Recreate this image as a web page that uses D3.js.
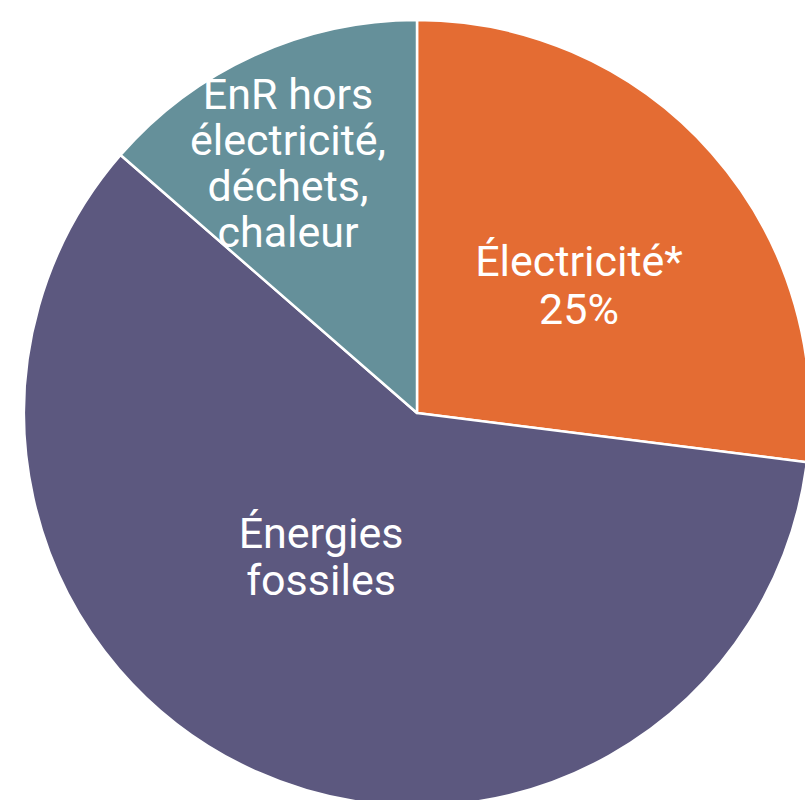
<!DOCTYPE html>
<html>
<head>
<meta charset="utf-8">
<script src="https://cdn.jsdelivr.net/npm/d3@7/dist/d3.min.js"></script>
<style>
  html, body { margin: 0; padding: 0; background: #ffffff; }
  svg { display: block; }
</style>
</head>
<body>
<svg id="chart" width="805" height="800"></svg>
<script>
// ---- Data ----
const categories = ["Électricité*", "Énergies fossiles", "EnR hors électricité, déchets, chaleur"];
const values = [27, 59.4, 13.6];
const labelLines = [
  ["Électricité*", "25%"],
  ["Énergies", "fossiles"],
  ["EnR hors", "électricité,", "déchets,", "chaleur"]
];
const colors = ["#E46C33", "#5C587F", "#65909A"];

// ---- Layout ----
const cx = 417, cy = 413, radius = 393;
const fontSize = 43;
const lineHeights = [47.5, 47, 46];
// first-baseline anchor of each label block (relative to pie centre)
const labelOffsets = [[162, -137], [-96, 135], [-129, -304]];

const svg = d3.select("#chart");
const g = svg.append("g").attr("transform", `translate(${cx},${cy})`);

const pie = d3.pie().sort(null).value(d => d.value).startAngle(0).endAngle(2 * Math.PI);
const data = categories.map((c, i) => ({ name: c, value: values[i], lines: labelLines[i], color: colors[i] }));
const arcs = pie(data);
const arc = d3.arc().innerRadius(0).outerRadius(radius);

g.selectAll("path.slice")
  .data(arcs)
  .join("path")
  .attr("class", "slice")
  .attr("d", arc)
  .attr("fill", d => d.data.color)
  .attr("stroke", "#ffffff")
  .attr("stroke-width", 2.5)
  .attr("stroke-linejoin", "round");

const labels = g.selectAll("text.lbl")
  .data(arcs)
  .join("text")
  .attr("class", "lbl")
  .attr("text-anchor", "middle")
  .attr("fill", "#ffffff")
  .style("font-family", "Roboto, 'Noto Sans', sans-serif")
  .style("font-size", fontSize + "px")
  .style("font-weight", 400);

labels.each(function(d, i) {
  const [ox, oy] = labelOffsets[i];
  const lh = lineHeights[i];
  d3.select(this).selectAll("tspan")
    .data(d.data.lines)
    .join("tspan")
    .attr("x", ox)
    .attr("y", (t, j) => oy + j * lh)
    .text(t => t);
});
</script>
</body>
</html>
